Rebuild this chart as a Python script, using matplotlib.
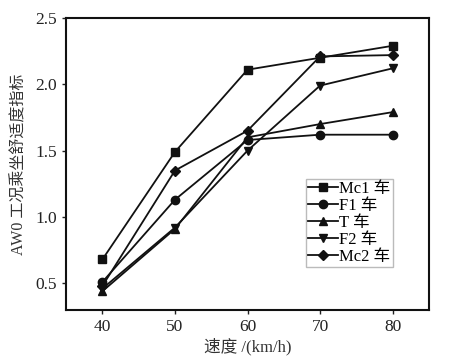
import matplotlib
matplotlib.use("Agg")
import matplotlib.pyplot as plt

speed = [40, 50, 60, 70, 80]
mc1 = [0.68, 1.49, 2.11, 2.20, 2.29]
f1 = [0.51, 1.13, 1.58, 1.62, 1.62]
t_car = [0.44, 0.91, 1.60, 1.70, 1.79]
f2 = [0.46, 0.92, 1.50, 1.99, 2.12]
mc2 = [0.48, 1.35, 1.65, 2.21, 2.22]
labels = ["Mc1 车", "F1 车", "T 车", "F2 车", "Mc2 车"]
markers = ["s", "o", "^", "v", "D"]

plt.rcParams['font.family'] = ['Liberation Serif', 'Noto Sans CJK SC']

fig = plt.figure(figsize=(4.5, 3.59), dpi=100)
ax = fig.add_axes([0.147, 0.137, 0.806, 0.813])

for ys, lab, m in zip([mc1, f1, t_car, f2, mc2], labels, markers):
    ms = 5 if m == "D" else 6
    ax.plot(speed, ys, color="#111111", lw=1.3, marker=m, ms=ms, label=lab)

ax.set_xlim(35, 85)
ax.set_ylim(0.3, 2.5)
ax.set_xticks([40, 50, 60, 70, 80])
ax.set_yticks([0.5, 1.0, 1.5, 2.0, 2.5])
ax.set_yticklabels(["0.5", "1.0", "1.5", "2.0", "2.5"])
ax.tick_params(direction="out", length=3, width=1, labelsize=12.5, colors="#222222")
for s in ax.spines.values():
    s.set_linewidth(1.5)
    s.set_color("#111111")

ax.set_xlabel("速度 /(km/h)", fontsize=12, color="#333333", labelpad=2)
ax.set_ylabel("AW0 工况乘坐舒适度指标", fontsize=11.5, color="#333333", labelpad=6)

leg = ax.legend(loc="upper left", bbox_to_anchor=(0.661, 0.449), fontsize=12,
                frameon=True, fancybox=False, borderpad=0.15, labelspacing=0.05,
                handlelength=1.8, handletextpad=0.05, borderaxespad=0)
leg.get_frame().set_edgecolor("#aaaaaa")
leg.get_frame().set_linewidth(1.0)

fig.savefig("out.png", dpi=100)
